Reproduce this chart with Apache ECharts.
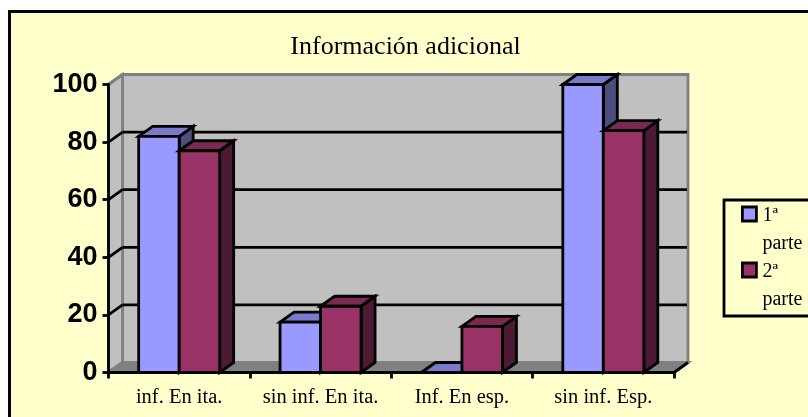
<!DOCTYPE html>
<html>
<head>
<meta charset="utf-8">
<style>html,body{margin:0;padding:0;background:#fff}#c{width:808px;height:417px}</style>
<script src="https://cdn.jsdelivr.net/npm/echarts@6/dist/echarts.min.js"></script>
</head>
<body>
<div id="c"></div>
<script>
const categories = ['inf. En ita.', 'sin inf. En ita.', 'Inf. En esp.', 'sin inf. Esp.'];
const parte1 = [82, 17.5, 0, 100];
const parte2 = [77, 23, 16, 84];
const yTicks = [0, 20, 40, 60, 80, 100];
const title = 'Información adicional';
const name1 = '1ª\nparte';
const name2 = '2ª\nparte';

const DX = 14, DY = -10;
const SERIF = '"Liberation Serif", serif';
const SANS = '"Liberation Sans", sans-serif';
const LW = 2.8;

function poly(points, fill, stroke, lw) {
  return {
    type: 'polygon', shape: { points },
    style: { fill, stroke: stroke || 'none', lineWidth: lw === undefined ? LW : lw, lineJoin: 'miter' }
  };
}
function line(x1, y1, x2, y2, stroke, lw) {
  return {
    type: 'line', shape: { x1, y1, x2, y2 },
    style: { stroke, lineWidth: lw === undefined ? LW : lw, fill: 'none' }
  };
}

function renderWalls(params) {
  const g = params.coordSys;
  const l = g.x, r = g.x + g.width, t = g.y, b = g.y + g.height;
  return {
    type: 'group',
    children: [
      poly([[l + DX, t + DY], [r + DX, t + DY], [r + DX, b + DY], [l + DX, b + DY]], '#c0c0c0', '#808080'),
      poly([[l, t], [l + DX, t + DY], [l + DX, b + DY], [l, b]], '#c0c0c0', '#808080'),
      poly([[l, b], [l + DX, b + DY], [r + DX, b + DY], [r, b]], '#808080', '#808080')
    ]
  };
}

function renderGrid(params, api) {
  const g = params.coordSys;
  const v = api.value(1);
  const p = api.coord([0, v]);
  const edge = v === yTicks[0] || v === yTicks[yTicks.length - 1];
  const c = edge ? '#808080' : '#000';
  const children = [line(g.x, p[1], g.x + DX, p[1] + DY, c)];
  if (!edge) children.push(line(g.x + DX, p[1] + DY, g.x + g.width + DX - 1, p[1] + DY, '#000'));
  return { type: 'group', children };
}

function renderFloorEnds(params) {
  const g = params.coordSys;
  const r = g.x + g.width, b = g.y + g.height;
  return line(r, b, r + DX, b + DY, '#000');
}

function barRenderer(offset, front, top, side) {
  return function (params, api) {
    const base = api.coord([api.value(0), 0]);
    const head = api.coord([api.value(0), api.value(1)]);
    const w = api.size([1, 0])[0] * 0.2865;
    const x0 = base[0] + offset * w, x1 = x0 + w;
    const y0 = head[1], y1 = base[1];
    return {
      type: 'group',
      children: [
        poly([[x1, y0], [x1 + DX, y0 + DY], [x1 + DX, y1 + DY], [x1, y1]], side, '#000'),
        poly([[x0, y0], [x0 + DX, y0 + DY], [x1 + DX, y0 + DY], [x1, y0]], top, '#000'),
        poly([[x0, y0], [x1, y0], [x1, y1], [x0, y1]], front, '#000')
      ]
    };
  };
}

const icon = 'path://M0 0H14V14H0Z M15 46L15 46';

const chart = echarts.init(document.getElementById('c'), null, { renderer: 'canvas' });
chart.setOption({
  animation: false,
  backgroundColor: '#fff',
  title: {
    text: title, left: 400.5, top: 29, textAlign: 'center',
    textStyle: { fontFamily: SERIF, fontWeight: 'normal', fontSize: 26, color: '#000' }
  },
  grid: { left: 108.5, top: 84.5, width: 565.5, height: 288 },
  xAxis: {
    type: 'category', data: categories, z: 5,
    axisLine: { lineStyle: { color: '#000', width: LW } },
    axisTick: { show: true, interval: 0, length: 6, alignWithLabel: false, lineStyle: { color: '#000', width: LW } },
    axisLabel: { interval: 0, hideOverlap: false, fontFamily: SERIF, fontSize: 20.5, color: '#000', margin: 15 },
    splitLine: { show: false }
  },
  yAxis: {
    type: 'value', min: 0, max: 100, interval: 20, z: 5,
    axisLine: { show: true, lineStyle: { color: '#000', width: LW } },
    axisTick: { show: true, length: 6, lineStyle: { color: '#000', width: LW } },
    axisLabel: { fontFamily: SANS, fontWeight: 'bold', fontSize: 27, color: '#000', margin: 11, padding: [3, 0, 0, 0] },
    splitLine: { show: false }
  },
  legend: {
    left: 724, top: 200, orient: 'vertical',
    padding: [2, 80, 2, 17],
    itemGap: 0, itemWidth: 15, itemHeight: 46,
    backgroundColor: '#ffffcc', borderColor: '#000', borderWidth: LW,
    selectedMode: false,
    textStyle: { fontFamily: SERIF, fontSize: 20, color: '#000', lineHeight: 28 },
    data: [
      { name: name1, icon, itemStyle: { color: '#9999ff', borderColor: '#000', borderWidth: LW } },
      { name: name2, icon, itemStyle: { color: '#993366', borderColor: '#000', borderWidth: LW } }
    ]
  },
  graphic: [{
    type: 'rect', z: -10, silent: true,
    shape: { x: 9.5, y: 11.5, width: 900, height: 600 },
    style: { fill: '#ffffcc', stroke: '#000', lineWidth: 3 }
  }],
  series: [
    { type: 'custom', name: 'wall', silent: true, clip: false, z: 1, renderItem: renderWalls, data: [[0, 0]], encode: { x: 0, y: 1 } },
    { type: 'custom', name: 'grid', silent: true, clip: false, z: 1, renderItem: renderGrid, data: yTicks.map(v => [0, v]), encode: { x: 0, y: 1 } },
    { type: 'custom', name: 'end', silent: true, clip: false, z: 1, renderItem: renderFloorEnds, data: [[0, 0]], encode: { x: 0, y: 1 } },
    { type: 'custom', name: name1, clip: false, z: 2, itemStyle: { color: '#9999ff' },
      renderItem: barRenderer(-1, '#9999ff', '#7a7acc', '#4d4d80'),
      data: parte1.map((v, i) => [i, v]), encode: { x: 0, y: 1 } },
    { type: 'custom', name: name2, clip: false, z: 3, itemStyle: { color: '#993366' },
      renderItem: barRenderer(0, '#993366', '#7a2952', '#4d1a33'),
      data: parte2.map((v, i) => [i, v]), encode: { x: 0, y: 1 } }
  ]
});
</script>
</body>
</html>
